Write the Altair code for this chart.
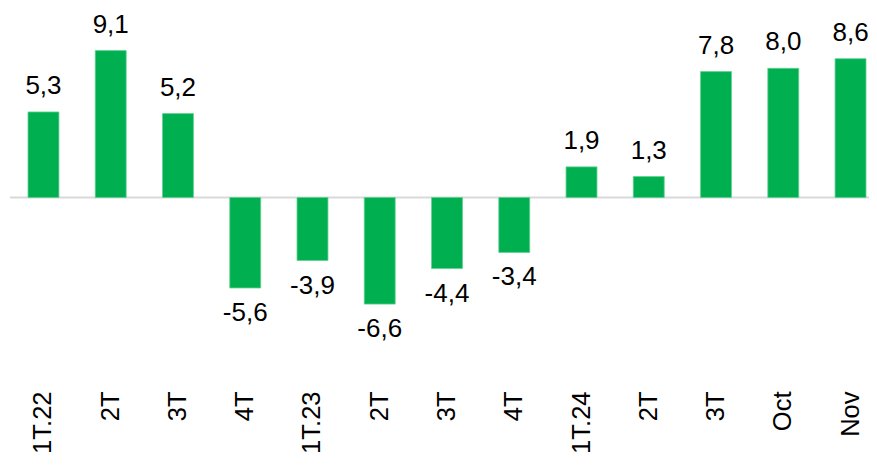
import altair as alt
import pandas as pd

categories = ["1T.22", "2T", "3T", "4T", "1T.23", "2T", "3T", "4T", "1T.24", "2T", "3T", "Oct", "Nov"]
values = [5.3, 9.1, 5.2, -5.6, -3.9, -6.6, -4.4, -3.4, 1.9, 1.3, 7.8, 8.0, 8.6]

df = pd.DataFrame({
    "idx": list(range(len(categories))),
    "cat": categories,
    "value": values,
    "label": [f"{v:.1f}".replace(".", ",") for v in values],
})

FONT = "Liberation Sans"
label_array = "[" + ",".join(f"'{c}'" for c in categories) + "]"
Y_DOMAIN = [-11.3, 10.5]

x = alt.X(
    "idx:O",
    title=None,
    scale=alt.Scale(paddingInner=0.54, paddingOuter=0.0),
    axis=alt.Axis(
        labelExpr=f"{label_array}[datum.value]",
        labelAngle=-90,
        labelFont=FONT,
        labelFontSize=25.5,
        labelColor="#000000",
        labelPadding=11,
        ticks=False,
        domain=False,
        grid=False,
    ),
)
y = alt.Y(
    "value:Q",
    title=None,
    scale=alt.Scale(domain=Y_DOMAIN, nice=False, zero=True),
    axis=None,
)

base = alt.Chart(df)

zero_line = alt.Chart(pd.DataFrame({"z": [0]})).mark_rule(color="#D9D9D9", strokeWidth=2).encode(
    y=alt.Y("z:Q", scale=alt.Scale(domain=Y_DOMAIN, nice=False), axis=None),
    x=alt.value(-18),
    x2=alt.value(841),
)

bars = base.mark_bar(color="#00B050", stroke="#5fd08f", strokeWidth=0.8).encode(x=x, y=y)

labels_pos = base.transform_filter("datum.value >= 0").mark_text(
    font=FONT, fontSize=26, color="#000000", baseline="alphabetic", dy=-18
).encode(x=x, y=y, text="label:N")

labels_neg = base.transform_filter("datum.value < 0").mark_text(
    font=FONT, fontSize=26, color="#000000", baseline="top", dy=12
).encode(x=x, y=y, text="label:N")

chart = alt.layer(zero_line, bars, labels_pos, labels_neg).properties(
    width=838,
    height=352,
    background="#FFFFFF",
    autosize=alt.AutoSizeParams(type="none"),
    padding={"left": 20, "top": 20, "right": 3, "bottom": 77},
).configure_view(strokeWidth=0, stroke="transparent")

chart.save("out.html", embed_options={"renderer": "svg", "actions": False})
